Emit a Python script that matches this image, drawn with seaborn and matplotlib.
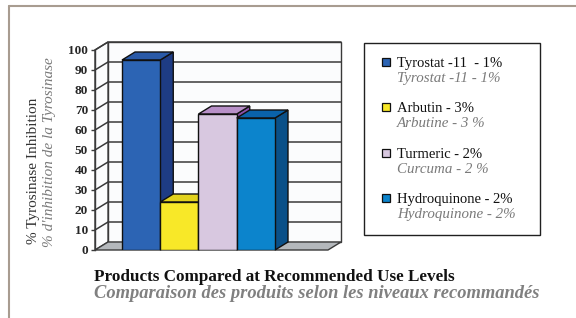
import matplotlib
matplotlib.use("Agg")
from matplotlib import pyplot as plt
from matplotlib.patches import Polygon, Rectangle
from matplotlib.lines import Line2D
import pandas as pd
import seaborn as sns

# data
products = ["Tyrostat-11", "Arbutin", "Turmeric", "Hydroquinone"]
inhibition = [95, 24, 68, 66]
legend_en = ["Tyrostat -11  - 1%", "Arbutin - 3%", "Turmeric - 2%", "Hydroquinone - 2%"]
legend_fr = ["Tyrostat -11 - 1%", "Arbutine - 3 %", "Curcuma - 2 %", "Hydroquinone - 2%"]
front_colors = ["#2c64b4", "#f8e828", "#d8c8e0", "#0c84cc"]
top_colors = ["#2a5aa8", "#e2d21e", "#b890c8", "#0a62aa"]
side_colors = ["#1e3c84", "#c8b810", "#8c50a8", "#0a5088"]
yticks = list(range(0, 101, 10))

W, H = 576, 318
def fx(x):
    return x / W
def fy(y):
    return 1 - y / H

sns.set_theme(style="white")
plt.rcParams['font.family'] = ['Liberation Serif', 'DejaVu Serif']

fig = plt.figure(figsize=(5.76, 3.18), dpi=100)
fig.patch.set_facecolor("white")
ax = fig.add_axes([fx(95), fy(250), 233 / W, 200 / H])
ax.set_facecolor("none")

df = pd.DataFrame({"product": products, "inhibition": inhibition})
sns.barplot(data=df, x="product", y="inhibition", hue="product",
            palette=front_colors, width=1.0, edgecolor="#101010",
            linewidth=1.0, legend=False, saturation=1, ax=ax)

xl, xr = -1.206, 4.886
ax.set_xlim(xl, xr)
ax.set_ylim(0, 100)
dx, dy = 0.34, 4.0
wall_kw = dict(clip_on=False, edgecolor="#3a3a3a", linewidth=1.0)

# back wall, side wall, floor
ax.add_patch(Polygon([(xl + dx, dy), (xr + dx, dy), (xr + dx, 100 + dy), (xl + dx, 100 + dy)],
                     facecolor="#fbfcfd", zorder=0.5, **wall_kw))
ax.add_patch(Polygon([(xl, 0), (xl + dx, dy), (xl + dx, 100 + dy), (xl, 100)],
                     facecolor="#fbfcfd", zorder=0.5, **wall_kw))
for v in yticks[1:]:
    ax.add_line(Line2D([xl, xl + dx, xr + dx], [v, v + dy, v + dy], color="#3a3a3a",
                       linewidth=1.1, zorder=0.6, clip_on=False))
ax.add_patch(Polygon([(xl, 0), (xr, 0), (xr + dx, dy), (xl + dx, dy)],
                     facecolor="#b4b8bc", zorder=0.7, **wall_kw))

# 3d sides and tops for the bars
bars = [p for p in ax.patches if isinstance(p, Rectangle)][:len(products)]
for i, bar in enumerate(bars):
    x0, w, h = bar.get_x(), bar.get_width(), bar.get_height()
    bar.set_zorder(2.05 + i * 0.1)
    ax.add_patch(Polygon([(x0 + w, 0), (x0 + w + dx, dy), (x0 + w + dx, h + dy), (x0 + w, h)],
                         facecolor=side_colors[i], edgecolor="#101010", linewidth=1.0,
                         zorder=2.0 + i * 0.1, clip_on=False))
    ax.add_patch(Polygon([(x0, h), (x0 + w, h), (x0 + w + dx, h + dy), (x0 + dx, h + dy)],
                         facecolor=top_colors[i], edgecolor="#101010", linewidth=1.0,
                         zorder=2.0 + i * 0.1, clip_on=False))

for s in ["top", "right", "bottom"]:
    ax.spines[s].set_visible(False)
ax.spines["left"].set_color("#3a3a3a")
ax.spines["left"].set_linewidth(1.0)
ax.spines["left"].set_zorder(0.8)
ax.set_yticks(yticks)
ax.set_yticklabels([str(v) for v in yticks], fontweight="bold", fontsize=9.5)
ax.tick_params(axis="y", length=3, width=1, color="#3a3a3a", pad=2, left=True)
ax.set_xticks([])
ax.set_xlabel("")
ax.set_ylabel("")

# y axis titles
fig.text(fx(33), fy(244), "% Tyrosinase Inhibition", rotation=90, rotation_mode="anchor",
         ha="left", va="center", fontsize=11, color="#333333")
fig.text(fx(50), fy(247), "% d'inhibition de la Tyrosinase", rotation=90, rotation_mode="anchor",
         ha="left", va="center", fontsize=11, style="italic", color="#7a7a7a")

# legend box
fig.patches.append(Rectangle((fx(364), fy(235)), 176 / W, 192 / H, transform=fig.transFigure,
                             facecolor="white", edgecolor="#202020", linewidth=1.0))
for i in range(len(products)):
    base = 67 + 45.3 * i
    fig.patches.append(Rectangle((fx(382), fy(base - 1)), 8 / W, 8 / H, transform=fig.transFigure,
                                 facecolor=front_colors[i], edgecolor="#101010", linewidth=0.9))
    fig.text(fx(397), fy(base), legend_en[i], fontsize=10.5, color="#111111", va="baseline")
    fig.text(fx(397), fy(base + 15), legend_fr[i], fontsize=10.8, style="italic",
             color="#7a7a7a", va="baseline")

# bottom titles
fig.text(fx(94), fy(281), "Products Compared at Recommended Use Levels", fontsize=12.3,
         fontweight="bold", color="#111111", va="baseline")
fig.text(fx(94), fy(298), "Comparaison des produits selon les niveaux recommandés", fontsize=13.3,
         fontweight="bold", style="italic", color="#808080", va="baseline")

# outer frame lines
fig.add_artist(Line2D([fx(9), fx(576)], [fy(6), fy(6)], color="#a89c90", linewidth=1.5))
fig.add_artist(Line2D([fx(9), fx(9)], [fy(6), fy(318)], color="#a89c90", linewidth=1.5))

fig.savefig("out.png", dpi=100)
